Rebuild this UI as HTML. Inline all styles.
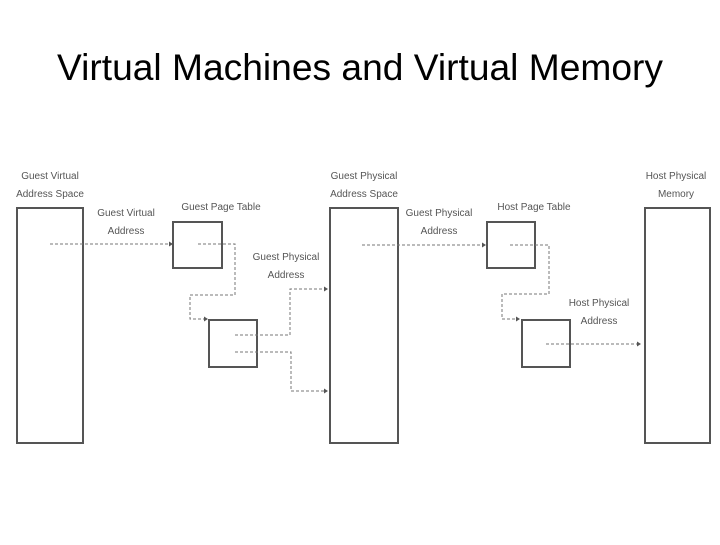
<!DOCTYPE html>
<html><head><style>
body{margin:0;background:#fff;width:720px;height:540px;overflow:hidden}
</style></head><body>
<svg width="720" height="540" xmlns="http://www.w3.org/2000/svg" font-family="Liberation Sans, sans-serif">
<text x="57" y="80" font-size="37" textLength="606" lengthAdjust="spacingAndGlyphs" fill="#000">Virtual Machines and Virtual Memory</text>
<g fill="none" stroke="#555" stroke-width="2">
<rect x="17" y="208" width="66" height="235"/>
<rect x="173" y="222" width="49" height="46"/>
<rect x="209" y="320" width="48" height="47"/>
<rect x="330" y="208" width="68" height="235"/>
<rect x="487" y="222" width="48" height="46"/>
<rect x="522" y="320" width="48" height="47"/>
<rect x="645" y="208" width="65" height="235"/>
</g>
<g fill="none" stroke="#777" stroke-width="1" stroke-dasharray="3,2">
<path d="M50 244H170"/>
<path d="M198 244H235V295H190V319H205"/>
<path d="M235 335H290V289H325"/>
<path d="M235 352H291V391H325"/>
<path d="M362 245H483"/>
<path d="M510 245H549V294H502V319H517"/>
<path d="M546 344H638"/>
</g>
<g fill="#555">
<path d="M173 244l-4-2.5v5z"/>
<path d="M208 319l-4-2.5v5z"/>
<path d="M328 289l-4-2.5v5z"/>
<path d="M328 391l-4-2.5v5z"/>
<path d="M486 245l-4-2.5v5z"/>
<path d="M520 319l-4-2.5v5z"/>
<path d="M641 344l-4-2.5v5z"/>
</g>
<g font-size="10" fill="#555" text-anchor="middle">
<text x="50" y="179">Guest Virtual</text><text x="50" y="197">Address Space</text>
<text x="126" y="216">Guest Virtual</text><text x="126" y="234">Address</text>
<text x="221" y="210">Guest Page Table</text>
<text x="286" y="260">Guest Physical</text><text x="286" y="278">Address</text>
<text x="364" y="179">Guest Physical</text><text x="364" y="197">Address Space</text>
<text x="439" y="216">Guest Physical</text><text x="439" y="234">Address</text>
<text x="534" y="210">Host Page Table</text>
<text x="599" y="306">Host Physical</text><text x="599" y="324">Address</text>
<text x="676" y="179">Host Physical</text><text x="676" y="197">Memory</text>
</g>
</svg>
</body></html>
